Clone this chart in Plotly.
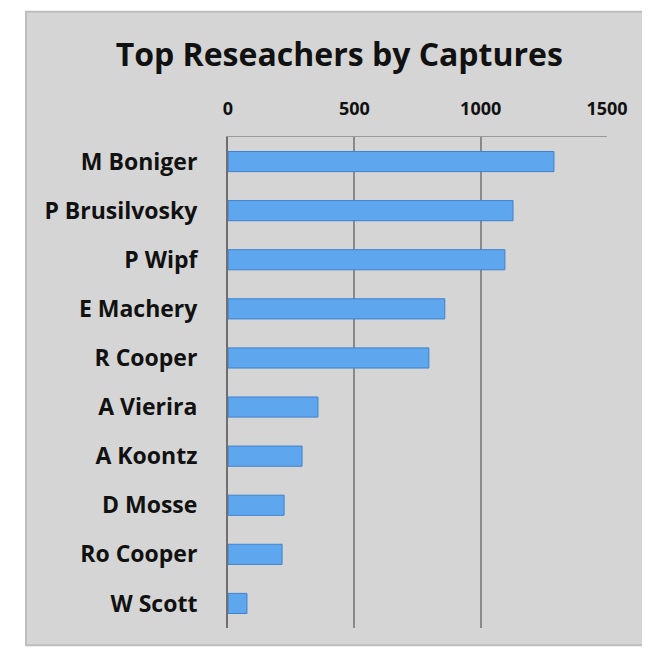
import plotly.graph_objects as go

# researchers, listed top to bottom as in the chart
researchers = ["M Boniger", "P Brusilvosky", "P Wipf", "E Machery", "R Cooper",
               "A Vierira", "A Koontz", "D Mosse", "Ro Cooper", "W Scott"]
captures = [1290, 1128, 1096, 858, 795, 356, 293, 222, 214, 75]
tick_vals = [0, 500, 1000, 1500]

fig = go.Figure()
fig.add_trace(go.Bar(
    x=captures, y=researchers, orientation="h",
    marker=dict(color="#5ea6ee", line=dict(color="#3f82cc", width=1)),
))

# page body adds an 8px margin, so the figure is a little smaller than the window
fig.update_layout(
    width=642, height=647,
    margin=dict(l=220, r=43, t=129, b=27),
    paper_bgcolor="white",
    plot_bgcolor="rgba(0,0,0,0)",
    bargap=0.59,
    showlegend=False,
    font=dict(family="Open Sans", color="#111111"),
    title=dict(text="<b>Top Reseachers by Captures</b>", x=0.516, xanchor="center",
               y=0.928, yanchor="middle", font=dict(size=32, color="#111111")),
    shapes=[dict(type="rect", xref="paper", yref="paper", layer="below",
                 x0=-0.533, x1=1.12, y0=-0.035, y1=1.255,
                 fillcolor="#d5d5d5", line=dict(color="#bdbdbd", width=2))],
)
fig.update_xaxes(
    side="top", range=[0, 1500], tickvals=tick_vals,
    ticktext=["<b>%d</b>" % v for v in tick_vals],
    tickfont=dict(size=18, color="#111111"),
    ticklabelstandoff=14,
    showgrid=True, gridcolor="#8a8a8a", gridwidth=2,
    zeroline=False, showline=True, linecolor="#9a9a9a", linewidth=1,
    ticks="",
)
fig.update_yaxes(
    autorange="reversed",
    tickvals=researchers, ticktext=["<b>%s</b>" % r for r in researchers],
    tickfont=dict(size=23, color="#111111"),
    ticklabelstandoff=24,
    showline=True, linecolor="#6f6f6f", linewidth=2,
    ticks="", showgrid=False,
)

fig.write_html("out.html")
